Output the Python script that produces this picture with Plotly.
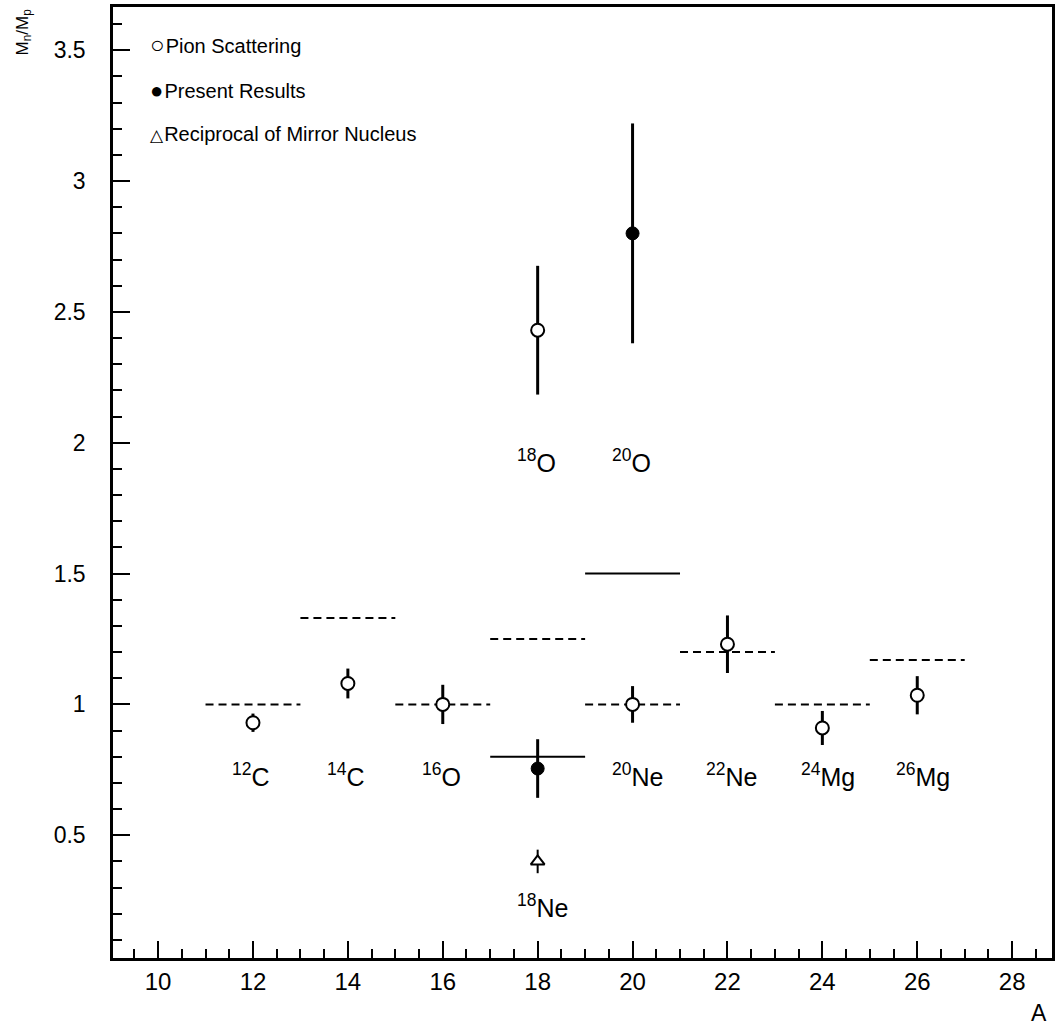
import plotly.graph_objects as go

# ---------------- data ----------------
pion_A = [12, 14, 16, 18, 20, 22, 24, 26]
pion_val = [0.93, 1.08, 1.00, 2.43, 1.00, 1.23, 0.91, 1.035]
pion_err = [0.035, 0.057, 0.075, 0.246, 0.07, 0.11, 0.065, 0.073]

present_A = [18, 20]
present_val = [0.755, 2.80]
present_err = [0.112, 0.42]

mirror_A = [18]
mirror_val = [0.40]
mirror_err = [0.045]

# model predictions (horizontal bars spanning A-1 .. A+1)
dashed_A = [12, 14, 16, 18, 20, 22, 24, 26]
dashed_val = [1.0, 1.33, 1.0, 1.25, 1.0, 1.2, 1.0, 1.17]
solid_A = [18, 20]
solid_val = [0.80, 1.50]

# nucleus labels
nuc_A = [12, 14, 16, 20, 22, 24, 26, 18, 20, 18]
nuc_mass = ['12', '14', '16', '20', '22', '24', '26', '18', '20', '18']
nuc_sym = ['C', 'C', 'O', 'Ne', 'Ne', 'Mg', 'Mg', 'O', 'O', 'Ne']
nuc_y = [0.73, 0.73, 0.73, 0.73, 0.73, 0.73, 0.73, 1.93, 1.93, 0.23]

# legend entries
legend_names = ['Pion Scattering', 'Present Results', 'Reciprocal of Mirror Nucleus']
legend_glyphs = ['○', '●', '△']

x_ticks = [10, 12, 14, 16, 18, 20, 22, 24, 26, 28]

FONT = "Liberation Sans, Arial, sans-serif"


def segs(centers, vals):
    xs, ys = [], []
    for a, v in zip(centers, vals):
        xs += [a - 1, a + 1, None]
        ys += [v, v, None]
    return xs, ys


fig = go.Figure()

dx, dy = segs(dashed_A, dashed_val)
fig.add_trace(go.Scatter(x=dx, y=dy, mode='lines', showlegend=False,
                         line=dict(color='black', width=2, dash='8px,5px'),
                         hoverinfo='skip'))
sx, sy = segs(solid_A, solid_val)
fig.add_trace(go.Scatter(x=sx, y=sy, mode='lines', showlegend=False,
                         line=dict(color='black', width=2),
                         hoverinfo='skip'))

err_style = dict(type='data', thickness=3, width=0, color='black')

fig.add_trace(go.Scatter(
    x=pion_A, y=pion_val, mode='markers', name=legend_names[0],
    showlegend=False,
    marker=dict(symbol='circle', size=13, color='white',
                line=dict(color='black', width=2)),
    error_y=dict(array=pion_err, **err_style)))

fig.add_trace(go.Scatter(
    x=present_A, y=present_val, mode='markers', name=legend_names[1],
    showlegend=False,
    marker=dict(symbol='circle', size=13, color='black',
                line=dict(color='black', width=1)),
    error_y=dict(array=present_err, **err_style)))

fig.add_trace(go.Scatter(
    x=mirror_A, y=mirror_val, mode='markers', name=legend_names[2],
    showlegend=False,
    marker=dict(symbol='triangle-up', size=12, color='white',
                line=dict(color='black', width=2)),
    error_y=dict(array=mirror_err, type='data', thickness=2, width=0, color='black')))

annotations = []
for a, m, s, yv in zip(nuc_A, nuc_mass, nuc_sym, nuc_y):
    annotations.append(dict(
        x=a, y=yv, xref='x', yref='y', xanchor='left', yanchor='middle',
        xshift=-23, showarrow=False,
        text=f'<sup>{m}</sup>{s}',
        font=dict(family=FONT, size=25, color='black')))

# legend drawn as text rows in the top-left corner
glyph_sizes = [24, 22, 17]
legend_shift = [-37, -83, -127]
for i, (g, nm) in enumerate(zip(legend_glyphs, legend_names)):
    annotations.append(dict(
        x=0, y=1, xref='paper', yref='paper', xanchor='left', yanchor='middle',
        xshift=35, yshift=legend_shift[i],
        showarrow=False,
        text=f'<span style="font-size:{glyph_sizes[i]}px">{g}</span>'
             f'<span style="font-size:4px"> </span>{nm}',
        font=dict(family=FONT, size=20, color='black')))

annotations.append(dict(
    x=1, y=0, xref='paper', yref='paper', xanchor='right', yanchor='middle',
    xshift=-3, yshift=-55, showarrow=False, text='A',
    font=dict(family=FONT, size=23, color='black')))
annotations.append(dict(
    x=0, y=1, xref='paper', yref='paper', xanchor='center', yanchor='top',
    xshift=-90, yshift=0, showarrow=False, textangle=-90,
    text='M<sub>n</sub>/M<sub>p</sub>',
    font=dict(family=FONT, size=17, color='black')))

axis_common = dict(
    showgrid=False, zeroline=False, showline=True, linewidth=2.5,
    linecolor='black', mirror=True, ticks='inside', tickwidth=2,
    tickcolor='black', ticklen=17,
)

fig.update_layout(
    width=1059, height=1026,
    margin=dict(l=113, r=4, t=6, b=68),
    paper_bgcolor='white', plot_bgcolor='white',
    font=dict(family=FONT, color='black'),
    xaxis=dict(range=[9.05, 28.84], tickmode='array', tickvals=x_ticks,
               minor=dict(dtick=0.5, tick0=10, ticks='inside', ticklen=9,
                          tickwidth=2, tickcolor='black'),
               ticklabelstandoff=0,
               tickfont=dict(family=FONT, size=24, color='black'),
               **axis_common),
    yaxis=dict(range=[0.031, 3.665], dtick=0.5, tick0=0.5,
               minor=dict(dtick=0.1, tick0=0, ticks='inside', ticklen=9,
                          tickwidth=2, tickcolor='black'),
               ticklabelstandoff=20,
               tickfont=dict(family=FONT, size=23, color='black'),
               **axis_common),
    annotations=annotations,
    showlegend=False,
)

fig.write_html("out.html")
